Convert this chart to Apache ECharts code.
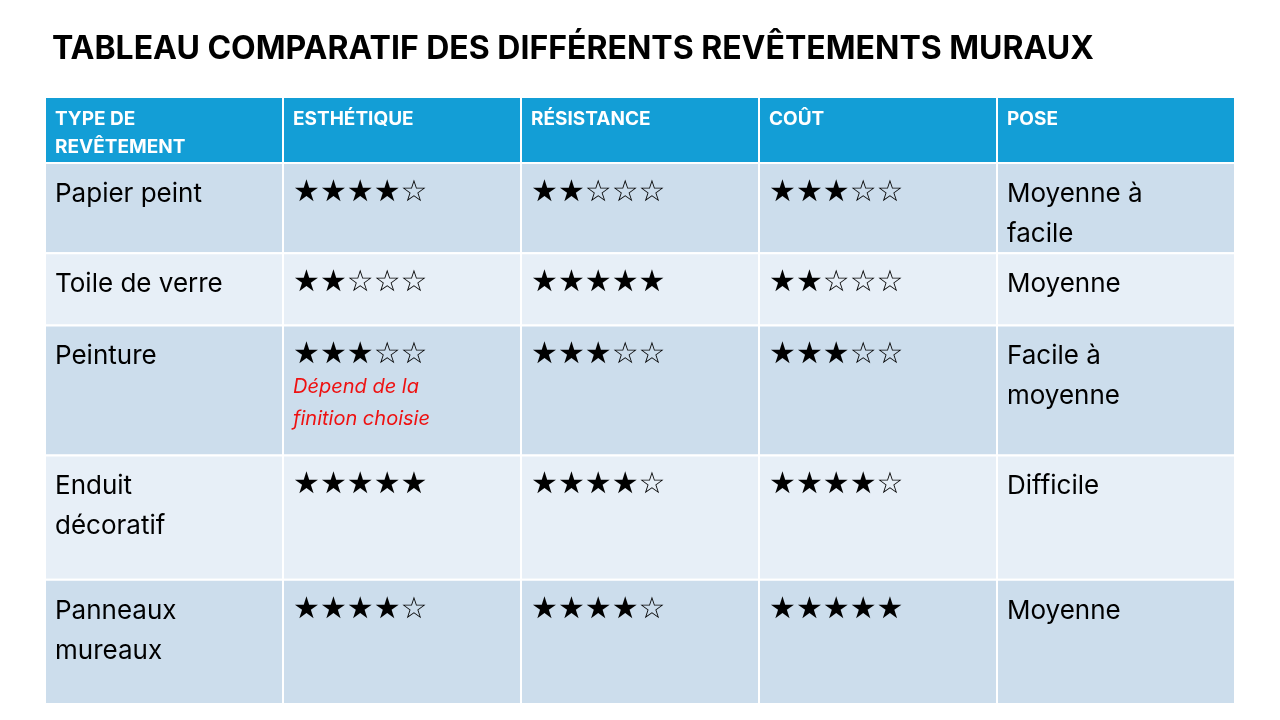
<!DOCTYPE html>
<html><head><meta charset="utf-8">
<script src="https://cdn.jsdelivr.net/npm/echarts@6/dist/echarts.min.js"></script>
<style>html,body{margin:0;background:#fff}#c{width:1280px;height:720px}</style>
</head><body><div id="c"></div>
<script>
const title = "TABLEAU COMPARATIF DES DIFFÉRENTS REVÊTEMENTS MURAUX";
const headers = ["TYPE DE\nREVÊTEMENT", "ESTHÉTIQUE", "RÉSISTANCE", "COÛT", "POSE"];
const types = ["Papier peint", "Toile de verre", "Peinture", "Enduit\ndécoratif", "Panneaux\nmureaux"];
const esthetique = [4, 2, 3, 5, 4];
const resistance = [2, 5, 3, 4, 4];
const cout = [3, 2, 3, 4, 5];
const pose = ["Moyenne à\nfacile", "Moyenne", "Facile à\nmoyenne", "Difficile", "Moyenne"];
const notes = ["", "", "Dépend de la\nfinition choisie", "", ""];

const rowHeights = [66, 90, 72, 130, 124, 124];
const rowStart = []; let acc = 0;
rowHeights.forEach(h => { rowStart.push(acc); acc += h; });
const total = acc;
const stars = n => "★".repeat(n) + "☆".repeat(5 - n);

const data = [];
headers.forEach((h, c) => data.push([c, 0, h, ""]));
types.forEach((t, r) => {
  data.push([0, r + 1, t, ""]);
  data.push([1, r + 1, stars(esthetique[r]), notes[r]]);
  data.push([2, r + 1, stars(resistance[r]), ""]);
  data.push([3, r + 1, stars(cout[r]), ""]);
  data.push([4, r + 1, pose[r], ""]);
});

const chart = echarts.init(document.getElementById('c'));
chart.setOption({
  animation: false,
  title: { text: title, left: 47, top: 28, textStyle: { fontFamily: 'Inter', fontWeight: 'bold', fontSize: 32, color: '#000' } },
  grid: { left: 45, right: 45, top: 97, bottom: 719 - 97 - total },
  xAxis: { type: 'value', min: 0, max: 5, show: false },
  yAxis: { type: 'value', min: 0, max: total, inverse: true, show: false },
  series: [{
    type: 'custom',
    data: data,
    renderItem: (params, api) => {
      const c = api.value(0), r = api.value(1);
      const item = data[params.dataIndex];
      const p0 = api.coord([c, rowStart[r]]);
      const p1 = api.coord([c + 1, rowStart[r] + rowHeights[r]]);
      const header = r === 0;
      const fill = header ? '#139ED6' : (r % 2 === 1 ? '#CCDDEC' : '#E7EFF7');
      const isStar = !header && c >= 1 && c <= 3;
      const children = [
        { type: 'rect', shape: { x: p0[0], y: p0[1], width: p1[0] - p0[0], height: p1[1] - p0[1] },
          style: { fill: fill, stroke: '#fff', lineWidth: 2 } },
        { type: 'text', x: p0[0] + 10, y: p0[1] + (header ? 8 : (isStar ? 10 : 11)),
          style: { text: item[2], fill: header ? '#fff' : '#000',
            font: header ? 'bold 19px Inter' : (isStar ? '30px "DejaVu Sans"' : '26px Inter'),
            lineHeight: header ? 28 : 40, verticalAlign: 'top' } }
      ];
      if (item[3]) {
        children.push({ type: 'text', x: p0[0] + 10, y: p0[1] + 46,
          style: { text: item[3], fill: '#EE1111', font: 'italic 20px Inter', lineHeight: 32, verticalAlign: 'top' } });
      }
      return { type: 'group', children };
    }
  }]
});
</script></body></html>
